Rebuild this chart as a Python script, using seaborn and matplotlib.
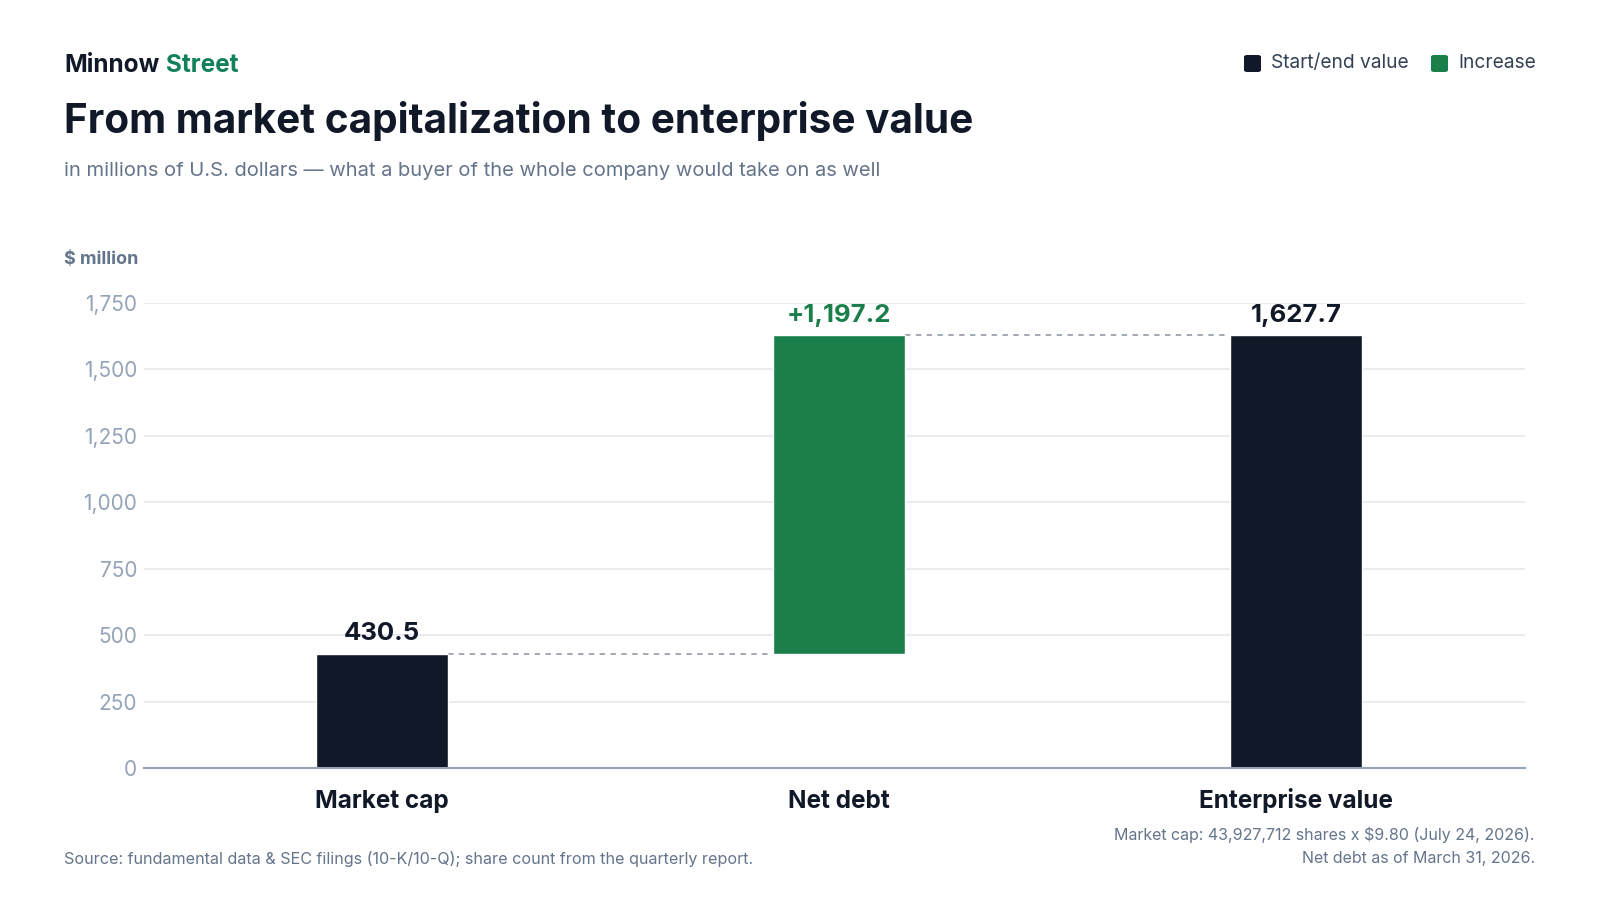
import matplotlib
matplotlib.use("Agg")
import matplotlib.pyplot as plt
import seaborn as sns
import pandas as pd

# data
categories = ["Market cap", "Net debt", "Enterprise value"]
values = [430.5, 1197.2, 1627.7]
kinds = ["total", "increase", "total"]
value_labels = ["430.5", "+1,197.2", "1,627.7"]
y_ticks = [0, 250, 500, 750, 1000, 1250, 1500, 1750]

DARK = "#111827"
GREEN = "#1b7f4c"
BRAND_GREEN = "#11805c"
GRAY_TEXT = "#64748b"
TICK_GRAY = "#94a3b8"

sns.set_theme(style="white")
plt.rcParams["font.family"] = ["Inter", "DejaVu Sans"]

df = pd.DataFrame({"category": categories, "value": values, "kind": kinds})

fig = plt.figure(figsize=(16, 9), dpi=100)
ax = fig.add_axes([0.09, 0.1467, 0.863, 0.5167])

sns.barplot(data=df, x="category", y="value", hue="kind",
            palette={"total": DARK, "increase": GREEN}, saturation=1,
            width=0.288, dodge=False, legend=False, ax=ax, zorder=3)

# waterfall: running bottoms
bottoms = []
running = 0
for v, k in zip(values, kinds):
    if k == "increase":
        bottoms.append(running)
        running += v
    else:
        bottoms.append(0)
        running = v

bars = [p for p in ax.patches if p.get_height() > 0]
bars.sort(key=lambda p: p.get_x())
for p, b in zip(bars, bottoms):
    p.set_y(b)

# connectors
tops = [b + v for b, v in zip(bottoms, values)]
for i in range(len(bars) - 1):
    x0 = bars[i].get_x() + bars[i].get_width()
    x1 = bars[i + 1].get_x()
    ax.plot([x0, x1], [tops[i], tops[i]], ls=(0, (3, 3)), color="#9ca3af",
            lw=1.3, zorder=2)

# value labels
for p, t, lab, k in zip(bars, tops, value_labels, kinds):
    ax.text(p.get_x() + p.get_width() / 2, t + 32, lab, ha="center", va="bottom",
            fontsize=18.5, fontweight="bold", color=GREEN if k == "increase" else DARK,
            zorder=4)

ax.set_xlim(-0.52, 2.50)
ax.set_ylim(0, 1750)
ax.set_yticks(y_ticks)
ax.set_yticklabels([f"{t:,}" for t in y_ticks], fontsize=15, color=TICK_GRAY)
ax.tick_params(axis="y", length=0, pad=5)
ax.set_xticks(range(len(categories)))
ax.set_xticklabels([])
ax.tick_params(axis="x", length=0)
for i, c in enumerate(categories):
    ax.text(i, -0.086, c, transform=ax.get_xaxis_transform(), ha="center",
            va="baseline", fontsize=17.5, fontweight="bold", color=DARK)
ax.set_xlabel("")
ax.set_ylabel("")
ax.grid(axis="y", color="#e5e7eb", lw=1.2, zorder=0)
ax.set_axisbelow(True)
for s in ["top", "right", "left"]:
    ax.spines[s].set_visible(False)
ax.spines["bottom"].set_color(TICK_GRAY)
ax.spines["bottom"].set_linewidth(1.5)
ax.spines["bottom"].set_zorder(5)

# header
fig.text(0.04, 1 - 65 / 900, "Minnow", fontsize=17.5, fontweight="bold",
         color=DARK, va="center", ha="left")
fig.text(0.1035, 1 - 65 / 900, "Street", fontsize=17.5, fontweight="bold",
         color=BRAND_GREEN, va="center", ha="left")
fig.text(0.04, 1 - 121 / 900, "From market capitalization to enterprise value",
         fontsize=29.2, fontweight="bold", color=DARK, va="center", ha="left")
fig.text(0.04, 1 - 171 / 900,
         "in millions of U.S. dollars \u2014 what a buyer of the whole company would take on as well",
         fontsize=14.5, color=GRAY_TEXT, va="center", ha="left")
fig.text(0.04, 1 - 259 / 900, "$ million", fontsize=13, fontweight="bold",
         color=GRAY_TEXT, va="center", ha="left")

# legend
legend_items = [("Start/end value", DARK, 1253), ("Increase", GREEN, 1440)]
for label, color, xpx in legend_items:
    sq = matplotlib.patches.FancyBboxPatch(
        ((xpx - 9) / 1600, 1 - 72 / 900), 17 / 1600, 17 / 900,
        boxstyle="round,pad=0,rounding_size=0.002", transform=fig.transFigure,
        facecolor=color, edgecolor="none")
    fig.patches.append(sq)
    fig.text((xpx + 18) / 1600, 1 - 63 / 900, label, fontsize=13.8, color="#334155",
             va="center", ha="left")

# footer
fig.text(0.04, 1 - 859 / 900,
         "Source: fundamental data & SEC filings (10-K/10-Q); share count from the quarterly report.",
         fontsize=11.6, color=GRAY_TEXT, va="center", ha="left")
fig.text(1535 / 1600, 1 - 835 / 900,
         "Market cap: 43,927,712 shares x $9.80 (July 24, 2026).",
         fontsize=11.5, color=GRAY_TEXT, va="center", ha="right")
fig.text(1535 / 1600, 1 - 859 / 900, "Net debt as of March 31, 2026.",
         fontsize=11.5, color=GRAY_TEXT, va="center", ha="right")

fig.savefig("out.png", dpi=100, facecolor="white")
